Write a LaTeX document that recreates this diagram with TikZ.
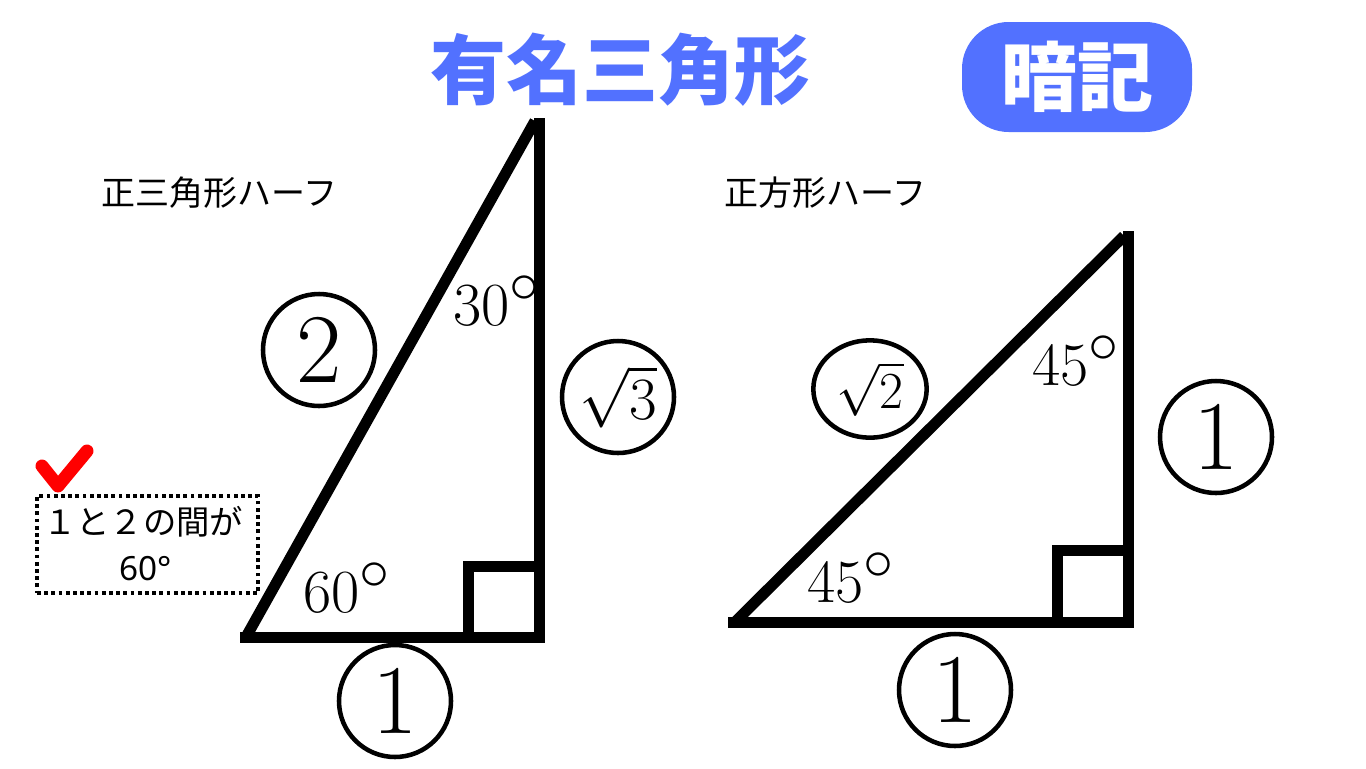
\RequirePackage{fix-cm}
\documentclass[tikz,border=0pt]{standalone}
\usepackage{fontspec}
\newfontfamily\cjk{Noto Sans CJK JP}
\newfontfamily\notosans{Noto Sans}
\usetikzlibrary{shapes.geometric}
\definecolor{brandblue}{HTML}{5271FF}
\newcommand{\bigdeg}{^{\scalebox{1.4}{$\scriptstyle\circ$}}}
\begin{document}
\begin{tikzpicture}[x=0.75pt,y=-0.75pt,
  tri/.style={line width=8.25pt},
  ring/.style={draw, circle, line width=3.4pt, minimum size=84pt, inner sep=0pt},
  deg/.style={inner sep=0pt, anchor=base west, font=\fontsize{46}{46}\selectfont},
  big/.style={font=\fontsize{74}{74}\selectfont},
  sub/.style={inner sep=0pt, font=\cjk\fontsize{25.5}{26}\selectfont}]
\useasboundingbox (0,0) rectangle (1366,768);
\fill[white] (0,0) rectangle (1366,768);

% title and badge
\node[inner sep=0pt, font=\cjk\bfseries\fontsize{57}{60}\selectfont, text=brandblue] (title) at (620,70) {有名三角形};
\node[fill=brandblue, rounded corners=35pt, minimum width=172.5pt, minimum height=82.5pt, inner sep=0pt,
      text=white, font=\cjk\bfseries\fontsize{57}{60}\selectfont] (badge) at (1077,77) {暗記};

% subtitles
\node[sub] (sub1) at (219,193) {正三角形ハーフ};
\node[sub] (sub2) at (825,193) {正方形ハーフ};

% left triangle
\coordinate (A0) at (240,637);
\coordinate (A1) at (246,637);
\coordinate (B) at (539,637);
\coordinate (C) at (539,118);
\coordinate (C1) at (535,121);
\coordinate (S1) at (468,637);
\coordinate (S2) at (468,566);
\coordinate (S3) at (539,566);
\draw[tri] (A0) -- (B) -- (C);
\draw[tri] (A1) -- (C1);
\draw[tri] (S1) -- (S2) -- (S3);

% right triangle
\coordinate (D0) at (728,622);
\coordinate (D1) at (735,622);
\coordinate (E) at (1128,622);
\coordinate (F) at (1128,231);
\coordinate (F1) at (1124,236);
\coordinate (T1) at (1057,622);
\coordinate (T2) at (1057,550);
\coordinate (T3) at (1128,550);
\draw[tri] (D0) -- (E) -- (F);
\draw[tri] (D1) -- (F1);
\draw[tri] (T1) -- (T2) -- (T3);

% angle labels
\node[deg] (d30) at (453,325) {$30\bigdeg$};
\node[deg] (d60) at (303,612) {$60\bigdeg$};
\node[deg] (d45a) at (1032,385) {$45\bigdeg$};
\node[deg] (d45b) at (807,602) {$45\bigdeg$};

% circled side labels
\node[ring, big] (c2) at (319,350) {2};
\node[ring, font=\fontsize{45}{45}\selectfont] (c3) at (618,397) {$\sqrt{3}$};
\node[ring, big] (c1a) at (395,701) {1};
\node[draw, ellipse, line width=3.4pt, minimum width=85pt, minimum height=73pt, inner sep=0pt,
      font=\fontsize{39}{39}\selectfont] (c2r) at (870,389) {$\sqrt{2}$};
\node[ring, big] (c1b) at (1216,437) {1};
\node[ring, big] (c1c) at (955,690) {1};

% note box
\node[draw, line width=2.6pt, dash pattern=on 2.8pt off 2.6pt, minimum width=165.75pt, minimum height=72.75pt, inner sep=0pt] (note) at (147.5,544.5) {};
\node[inner sep=0pt, font=\cjk\fontsize{25}{25}\selectfont] (n1) at (143,522) {１と２の間が};
\node[inner sep=0pt, font=\notosans\fontsize{25}{25}\selectfont] (n2) at (146,569) {60°};

% check mark
\coordinate (k1) at (42,466);
\coordinate (k2) at (58,486);
\coordinate (k3) at (87,451);
\draw[red, line width=9.75pt, line cap=round, line join=round] (k1) -- (k2) -- (k3);
\end{tikzpicture}
\end{document}
